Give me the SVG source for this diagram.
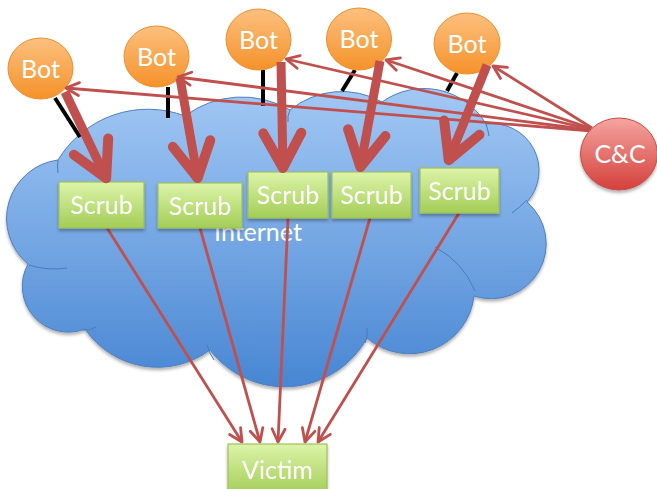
<svg xmlns="http://www.w3.org/2000/svg" width="657" height="489" viewBox="0 0 657 489">
<defs>
<linearGradient id="gCloud" x1="0" y1="0" x2="0" y2="1">
<stop offset="0" stop-color="#a2c8f4"/><stop offset="1" stop-color="#4886d3"/>
</linearGradient>
<linearGradient id="gBot" x1="0" y1="0" x2="0" y2="1">
<stop offset="0" stop-color="#fcc07f"/><stop offset="1" stop-color="#f5922a"/>
</linearGradient>
<linearGradient id="gCC" x1="0" y1="0" x2="0" y2="1">
<stop offset="0" stop-color="#f5a5a0"/><stop offset="1" stop-color="#d4403b"/>
</linearGradient>
<linearGradient id="gBox" x1="0" y1="0" x2="0" y2="1">
<stop offset="0" stop-color="#ddf4a9"/><stop offset="1" stop-color="#a3cd57"/>
</linearGradient>
<filter id="sh" x="-10%" y="-10%" width="120%" height="130%">
<feDropShadow dx="0" dy="2.5" stdDeviation="1.8" flood-color="#000" flood-opacity="0.3"/>
</filter>
<marker id="big" markerUnits="userSpaceOnUse" orient="auto" overflow="visible" markerWidth="10" markerHeight="10">
<path d="M -37 -19 L -2 0 L -37 19" fill="none" stroke="#c0504d" stroke-width="10" stroke-linecap="round" stroke-linejoin="round"/>
</marker>
<marker id="small" markerUnits="userSpaceOnUse" orient="auto" overflow="visible" markerWidth="10" markerHeight="10">
<path d="M -13 -6.5 L 0 0 L -13 6.5" fill="none" stroke="#c0504d" stroke-width="2.8" stroke-linecap="round" stroke-linejoin="round"/>
</marker>
</defs>
<style>
.t{font-family:Lato,"Open Sans","Liberation Sans",sans-serif;font-size:25px;fill:#fff;text-anchor:middle}
.bot{fill:url(#gBot);stroke:#ee8f2e;stroke-width:1}
.box{fill:url(#gBox);stroke:#9fc05a;stroke-width:1.2}
.crease{fill:none;stroke:#4a7cba;stroke-width:1}
.thin{fill:none;stroke:#c0504d;stroke-width:2.8;marker-end:url(#small)}
.thick{fill:none;stroke:#c0504d;stroke-width:9;marker-end:url(#big)}
.blk{stroke:#000;stroke-width:4}
</style>

<g id="internet">
<path filter="url(#sh)" fill="url(#gCloud)" stroke="#4f7fbe" stroke-width="1" d="M 28 264 A 59 59 0 0 1 58 160 A 105 105 0 0 1 185 116 A 95 95 0 0 1 290 110 A 82 82 0 0 1 382 102 A 72 72 0 0 1 486 124 A 47 47 0 0 1 527 202 A 55 55 0 0 1 474 296 A 65 65 0 0 1 367 338 A 94 94 0 0 1 210 350 A 88 88 0 0 1 85 329 A 46 46 0 0 1 28 264 Z"/>
<path class="crease" d="M 29 265 Q 48 271 67 268 M 82 330 Q 90 331 96 327 M 207 345 Q 209 353 214 360 M 367 328 Q 368 336 365 343 M 435 247 Q 463 262 475 291 M 512 213 Q 520 207 527 200 M 290 110 Q 287 116 288 122 M 486 124 Q 488 130 489 136 M 58 160 Q 57 167 58 173"/>
<text class="t" x="258" y="241">Internet</text>
</g>

<g id="bot-wires">
<line class="blk" x1="55" y1="98" x2="80" y2="137"/>
<line class="blk" x1="168" y1="87" x2="168" y2="118"/>
<line class="blk" x1="263" y1="70" x2="263" y2="106"/>
<line class="blk" x1="355" y1="70" x2="342" y2="91"/>
<line class="blk" x1="457" y1="73" x2="447" y2="91"/>
</g>

<g id="connectors-victim">
<line class="thin" x1="107" y1="228" x2="242" y2="442"/>
<line class="thin" x1="200" y1="228" x2="260" y2="442"/>
<line class="thin" x1="288" y1="218" x2="278" y2="442"/>
<line class="thin" x1="370" y1="218" x2="305" y2="442"/>
<line class="thin" x1="459" y1="213" x2="318" y2="442"/>
</g>

<g id="scrub1" filter="url(#sh)"><rect class="box" x="59" y="182" width="85" height="46"/><text class="t" x="101.5" y="214">Scrub</text></g>
<g id="scrub2" filter="url(#sh)"><rect class="box" x="158" y="183" width="84" height="45"/><text class="t" x="200" y="214.5">Scrub</text></g>
<g id="scrub3" filter="url(#sh)"><rect class="box" x="248" y="172" width="80" height="46"/><text class="t" x="288" y="204">Scrub</text></g>
<g id="scrub4" filter="url(#sh)"><rect class="box" x="332" y="172" width="79" height="46"/><text class="t" x="371.5" y="204">Scrub</text></g>
<g id="scrub5" filter="url(#sh)"><rect class="box" x="420" y="168" width="79" height="45"/><text class="t" x="459.5" y="199.5">Scrub</text></g>

<g id="victim" filter="url(#sh)"><rect class="box" x="228" y="444" width="99" height="50"/><text class="t" x="277.5" y="478.5">Victim</text></g>

<g id="bot1"><ellipse class="bot" cx="40.5" cy="68.5" rx="32.5" ry="30.5"/><text class="t" x="40.5" y="77.5">Bot</text></g>
<g id="bot2"><ellipse class="bot" cx="156.5" cy="56.5" rx="32.5" ry="30.5"/><text class="t" x="156.5" y="65.5">Bot</text></g>
<g id="bot3"><ellipse class="bot" cx="258.5" cy="39.5" rx="32.5" ry="30.5"/><text class="t" x="258.5" y="48.5">Bot</text></g>
<g id="bot4"><ellipse class="bot" cx="359" cy="39" rx="32.5" ry="31"/><text class="t" x="359" y="48">Bot</text></g>
<g id="bot5"><ellipse class="bot" cx="467" cy="43.5" rx="33" ry="30.5"/><text class="t" x="467" y="52.5">Bot</text></g>

<g id="connectors-cc">
<line class="thin" x1="592" y1="131" x2="66" y2="88"/>
<line class="thin" x1="591" y1="130" x2="178" y2="77"/>
<line class="thin" x1="590" y1="129" x2="286" y2="59"/>
<line class="thin" x1="590" y1="128" x2="386" y2="60"/>
<line class="thin" x1="592" y1="128" x2="493" y2="66"/>
</g>

<g id="connectors-attack">
<line class="thick" x1="65" y1="92" x2="107" y2="180"/>
<line class="thick" x1="180" y1="78" x2="198" y2="180"/>
<line class="thick" x1="281" y1="62" x2="283" y2="170"/>
<line class="thick" x1="380" y1="61" x2="360" y2="169"/>
<line class="thick" x1="487" y1="65" x2="448" y2="162"/>
</g>

<g id="cc"><ellipse cx="619" cy="154" rx="38.5" ry="36" fill="url(#gCC)" stroke="#c94a46" stroke-width="1" filter="url(#sh)"/><text class="t" x="620" y="163">C&amp;C</text></g>
</svg>
